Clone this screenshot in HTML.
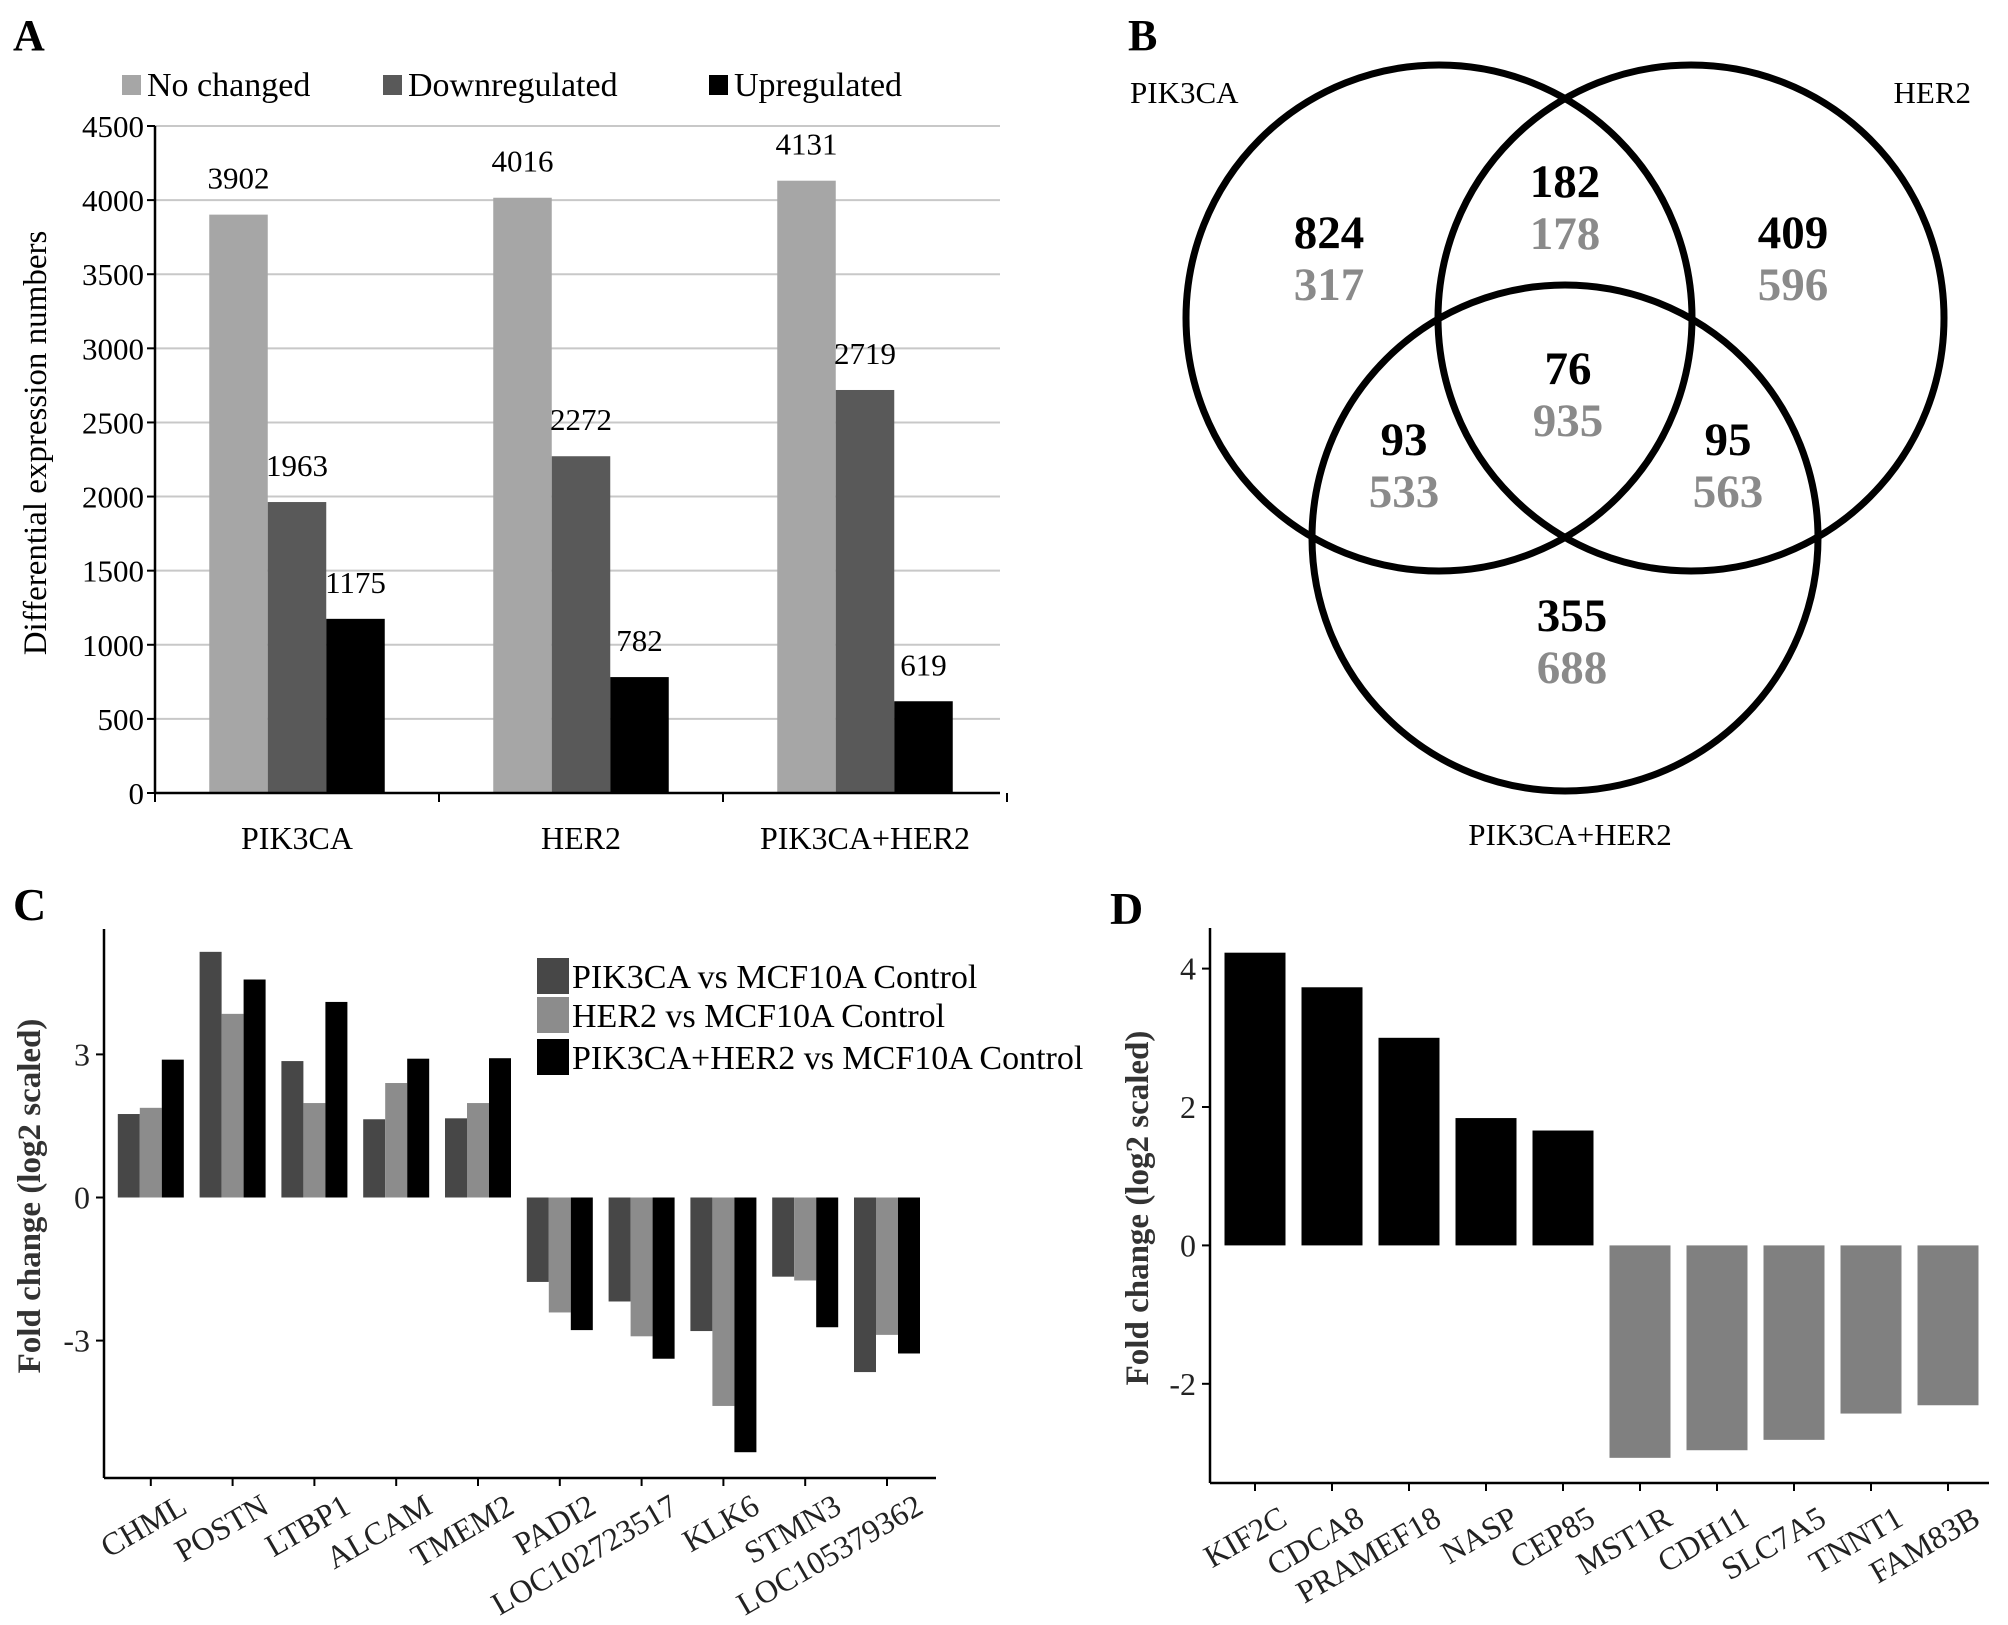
<!DOCTYPE html>
<html><head><meta charset="utf-8"><style>
html,body{margin:0;padding:0;background:#fff}
svg{display:block}
text{font-family:"Liberation Serif","Times New Roman",serif}
</style></head><body>
<svg id="fig" width="2008" height="1625" viewBox="0 0 2008 1625" xmlns="http://www.w3.org/2000/svg">
<g id="pA"></g>
<g id="pB"></g>
<g id="pC"></g>
<g id="pD"></g>
</svg>
<script>
// ---------- Panel A data ----------
const aCategories = ["PIK3CA","HER2","PIK3CA+HER2"];
const aNoChanged = [3902,4016,4131];
const aDown = [1963,2272,2719];
const aUp = [1175,782,619];
const aTicks = [0,500,1000,1500,2000,2500,3000,3500,4000,4500];
const aSeriesNames = ["No changed","Downregulated","Upregulated"];
// ---------- Panel B data ----------
const vennSets = ["PIK3CA","HER2","PIK3CA+HER2"];
const vennUp = [824,182,409,76,93,95,355];
const vennDown = [317,178,596,935,533,563,688];
// ---------- Panel C data ----------
const cGenes = ["CHML","POSTN","LTBP1","ALCAM","TMEM2","PADI2","LOC102723517","KLK6","STMN3","LOC105379362"];
const cPIK3CA = [1.75,5.15,2.86,1.64,1.66,-1.77,-2.18,-2.8,-1.66,-3.66];
const cHER2 = [1.88,3.85,1.98,2.4,1.98,-2.41,-2.91,-4.37,-1.74,-2.88];
const cBoth = [2.89,4.57,4.1,2.91,2.92,-2.78,-3.38,-5.34,-2.72,-3.27];
const cTicks = [-3,0,3];
const cSeriesNames = ["PIK3CA vs MCF10A Control","HER2 vs MCF10A Control","PIK3CA+HER2 vs MCF10A Control"];
// ---------- Panel D data ----------
const dGenes = ["KIF2C","CDCA8","PRAMEF18","NASP","CEP85","MST1R","CDH11","SLC7A5","TNNT1","FAM83B"];
const dValues = [4.23,3.73,3.0,1.84,1.66,-3.07,-2.96,-2.81,-2.43,-2.31];
const dTicks = [-2,0,2,4];

const NS="http://www.w3.org/2000/svg";
function mk(parent,tag,attrs,txt){const e=document.createElementNS(NS,tag);for(const k in attrs)e.setAttribute(k,attrs[k]);if(txt!==undefined)e.textContent=txt;parent.appendChild(e);return e;}

// ===== Panel A =====
(function(){
const g=document.getElementById('pA');
const x0=155,x1=1000,yBase=793,yTop=126,vmax=4500;
const ya=v=>yBase-(v/vmax)*(yBase-yTop);
const catW=284;
const xa=i=>x0+catW*i+catW/2;
let t=mk(g,'text',{x:13,y:50,'font-size':44,'font-weight':'bold'},'A');


aTicks.forEach(v=>{
 if(v>0){let l=mk(g,'line',{x1:x0,x2:x1,y1:ya(v),y2:ya(v),stroke:'#c8c8c8','stroke-width':2});
 
 }
 let tk=mk(g,'line',{x1:x0-8,x2:x0,y1:ya(v),y2:ya(v),stroke:'#000','stroke-width':2});
 
 
 let tl=mk(g,'text',{x:x0-11,y:ya(v)+11,'font-size':31,'text-anchor':'end'},String(v));
 
 
});
const series=[aNoChanged,aDown,aUp], cols=['#a6a6a6','#595959','#000'];
const bw=58.5;
aCategories.forEach((c,i)=>{
 const gs=xa(i)-bw*1.5;
 series.forEach((s,j)=>{
  const bx=gs+bw*j;
  let r=mk(g,'rect',{x:bx,y:ya(s[i]),width:bw,height:yBase-ya(s[i]),fill:cols[j]});
  
  
  let vl=mk(g,'text',{x:bx+bw/2,y:ya(s[i])-26,'font-size':31,'text-anchor':'middle'},String(s[i]));
  
  
 });
 let xl=mk(g,'text',{x:xa(i),y:849,'font-size':32,'text-anchor':'middle'},c);
 
 
});
for(let i=0;i<=3;i++){let tk=mk(g,'line',{x1:x0+catW*i,x2:x0+catW*i,y1:yBase,y2:yBase+9,stroke:'#000','stroke-width':2});
 
 }
let ax=mk(g,'line',{x1:x0,x2:x0,y1:yTop,y2:yBase,stroke:'#000','stroke-width':2.5});


let axx=mk(g,'line',{x1:x0,x2:x1,y1:yBase,y2:yBase,stroke:'#000','stroke-width':2.5});


let yt=mk(g,'text',{x:0,y:0,'font-size':33,'text-anchor':'middle',transform:'translate(46,443) rotate(-90)'},'Differential expression numbers');


const lx=[122,383,709];
aSeriesNames.forEach((n,j)=>{
 let s=mk(g,'rect',{x:lx[j],y:75,width:19,height:20,fill:cols[j]});
 
 
 let lt=mk(g,'text',{x:lx[j]+25,y:96,'font-size':34},n);
 
 
});
})();

// ===== Panel B =====
(function(){
const g=document.getElementById('pB');
let t=mk(g,'text',{x:1128,y:50,'font-size':44,'font-weight':'bold'},'B');


const circles=[[1439,318],[1691,318],[1565,538]];
circles.forEach((c,i)=>{
 let ci=mk(g,'circle',{cx:c[0],cy:c[1],r:253,fill:'none',stroke:'#000','stroke-width':7});
 
 
});
const setLbl=[[1130,103,'start'],[1971,103,'end'],[1570,845,'middle']];
vennSets.forEach((s,i)=>{
 let l=mk(g,'text',{x:setLbl[i][0],y:setLbl[i][1],'font-size':31,'text-anchor':setLbl[i][2]},s);
 
 
});
const pos=[[1329,248],[1565,197],[1793,248],[1568,384],[1404,455],[1728,455],[1572,631]];
vennUp.forEach((v,i)=>{
 let a=mk(g,'text',{x:pos[i][0],y:pos[i][1],'font-size':47,'font-weight':'bold','text-anchor':'middle',fill:'#000'},String(v));
 
 
 let b=mk(g,'text',{x:pos[i][0],y:pos[i][1]+52,'font-size':47,'font-weight':'bold','text-anchor':'middle',fill:'#8a8a8a'},String(vennDown[i]));
 
 
});
})();

// ===== Panel C =====
(function(){
const g=document.getElementById('pC');
const x0=104,x1=936,yT=929,yB=1478,y0=1197.5,unit=47.7;
const yc=v=>y0-v*unit;
const xc=i=>150.8+81.8*i;
let t=mk(g,'text',{x:13,y:920,'font-size':46,'font-weight':'bold'},'C');


const series=[cPIK3CA,cHER2,cBoth], cols=['#474747','#8c8c8c','#000'];
const bw=22;
cGenes.forEach((gname,i)=>{
 series.forEach((s,j)=>{
  const bx=xc(i)-bw*1.5+bw*j, v=s[i];
  let r=mk(g,'rect',{x:bx,y:Math.min(yc(v),y0),width:bw,height:Math.abs(yc(v)-y0),fill:cols[j]});
  
  
 });
 let tk=mk(g,'line',{x1:xc(i),x2:xc(i),y1:yB,y2:yB+8,stroke:'#000','stroke-width':2});
 
 
 let xl=mk(g,'text',{x:0,y:0,'font-size':32,'text-anchor':'end',fill:'#222',transform:'translate('+(xc(i)+38)+',1512) rotate(-30)'},gname);
 
 
});
cTicks.forEach(v=>{
 let tk=mk(g,'line',{x1:x0-8,x2:x0,y1:yc(v),y2:yc(v),stroke:'#000','stroke-width':2});
 
 
 let tl=mk(g,'text',{x:x0-14,y:yc(v)+11,'font-size':32,'text-anchor':'end',fill:'#222'},String(v));
 
 
});
let ax=mk(g,'line',{x1:x0,x2:x0,y1:yT,y2:yB,stroke:'#000','stroke-width':2.5});


let axx=mk(g,'line',{x1:x0,x2:x1,y1:yB,y2:yB,stroke:'#000','stroke-width':2.5});


let yt=mk(g,'text',{x:0,y:0,'font-size':33,'font-weight':'bold','text-anchor':'middle',fill:'#333',transform:'translate(40,1196) rotate(-90)'},'Fold change (log2 scaled)');


const ly=[958,997,1039];
cSeriesNames.forEach((n,j)=>{
 let s=mk(g,'rect',{x:537,y:ly[j],width:32,height:36,fill:cols[j]});
 
 
 let lt=mk(g,'text',{x:572,y:ly[j]+30,'font-size':34},n);
 
 
});
})();

// ===== Panel D =====
(function(){
const g=document.getElementById('pD');
const x0=1210,x1=1989,yT=928,yB=1483,y0=1245.4,unit=69.2;
const yd=v=>y0-v*unit;
const xd=i=>1255+77.0*i;
let t=mk(g,'text',{x:1110,y:924,'font-size':46,'font-weight':'bold'},'D');


const bw=61;
dGenes.forEach((gname,i)=>{
 const v=dValues[i];
 let r=mk(g,'rect',{x:xd(i)-bw/2,y:Math.min(yd(v),y0),width:bw,height:Math.abs(yd(v)-y0),fill:v>=0?'#000':'#808080'});
 
 
 let tk=mk(g,'line',{x1:xd(i),x2:xd(i),y1:yB,y2:yB+8,stroke:'#000','stroke-width':2});
 
 
 let xl=mk(g,'text',{x:0,y:0,'font-size':32,'text-anchor':'end',fill:'#222',transform:'translate('+(xd(i)+34)+',1524) rotate(-30)'},gname);
 
 
});
dTicks.forEach(v=>{
 let tk=mk(g,'line',{x1:x0-8,x2:x0,y1:yd(v),y2:yd(v),stroke:'#000','stroke-width':2});
 
 
 let tl=mk(g,'text',{x:x0-14,y:yd(v)+11,'font-size':32,'text-anchor':'end',fill:'#222'},String(v));
 
 
});
let ax=mk(g,'line',{x1:x0,x2:x0,y1:yT,y2:yB,stroke:'#000','stroke-width':2.5});


let axx=mk(g,'line',{x1:x0,x2:x1,y1:yB,y2:yB,stroke:'#000','stroke-width':2.5});


let yt=mk(g,'text',{x:0,y:0,'font-size':33,'font-weight':'bold','text-anchor':'middle',fill:'#333',transform:'translate(1148,1208) rotate(-90)'},'Fold change (log2 scaled)');


})();
</script>
</body></html>
